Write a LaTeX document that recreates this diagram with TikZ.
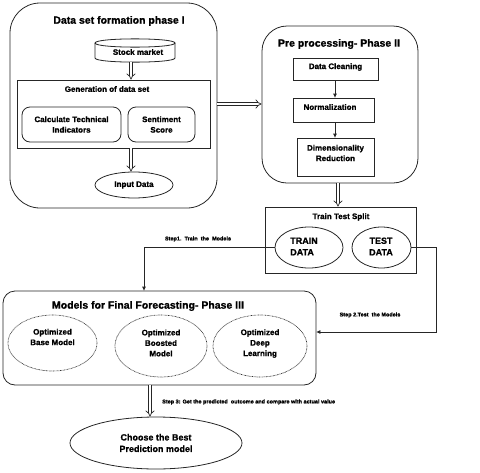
\documentclass[tikz,border=0pt]{standalone}
\usepackage{fontspec}
\setmainfont{Liberation Sans}[BoldFeatures={FakeBold=1}]
\usetikzlibrary{arrows.meta,shapes.geometric}
\tikzset{
  every node/.style={font=\bfseries, inner sep=0pt, align=center},
  ln/.style={draw=black!85, line width=0.8pt},
  phase/.style={ln, rectangle, rounded corners=#1},
  box/.style={ln, rectangle},
  oval/.style={ln, ellipse},
  dotoval/.style={draw=black!80, line width=0.7pt, ellipse, dash pattern=on 0.7pt off 0.7pt},
  dbl/.style={draw=black!85, line width=0.7pt, double, double distance=2.5pt, -{Implies[length=4pt]}},
  arr/.style={draw=black!85, line width=0.8pt, -{Triangle[length=4pt,width=3.5pt]}},
  ttl/.style={font=\fontsize{10.5}{12}\bfseries\selectfont},
  txt/.style={font=\fontsize{8}{10.5}\bfseries\selectfont},
  big/.style={font=\fontsize{9}{11.5}\bfseries\selectfont},
  stp/.style={font=\fontsize{5.5}{7}\bfseries\selectfont},
}
\begin{document}
\begin{tikzpicture}[x=1pt,y=-1pt]
\useasboundingbox (0,0) rectangle (480,472);
% Phase I
\node[phase=30pt, minimum width=207pt, minimum height=205pt] (p1) at (113.5,105.5) {};
\node[ttl] (t1) at (119,21) {Data set formation phase I};
\node[minimum width=80pt, minimum height=23pt] (stock) at (135,50.5) {};
\draw[ln, fill=white] (95,43) -- (95,58) .. controls (95,63.5) and (175,63.5) .. (175,58) -- (175,43);
\draw[ln] (95,43) .. controls (95,37.5) and (175,37.5) .. (175,43) .. controls (175,48.5) and (95,48.5) .. (95,43);
\node[txt] at (138,52) {Stock market};
\node[box, minimum width=193pt, minimum height=68pt] (gen) at (113.5,114) {};
\node[txt] (gent) at (107,89) {Generation of data set};
\node[phase=8pt, minimum width=99pt, minimum height=35pt, txt] (calc) at (71.5,124.5) {Calculate Technical\\Indicators};
\node[phase=8pt, minimum width=67pt, minimum height=35pt, txt] (sent) at (161.5,124.5) {Sentiment\\Score};
\node[oval, minimum width=78pt, minimum height=26pt, txt] (inp) at (134,185) {Input Data};
\coordinate (ax) at (131,0);
\draw[dbl] (stock.south -| ax) -- (gen.north -| ax);
\draw[dbl] (gen.south -| ax) -- (inp.north -| ax);
% Phase II
\node[phase=25pt, minimum width=156pt, minimum height=157pt] (p2) at (340,104.5) {};
\node[ttl] (t2) at (339,44) {Pre processing- Phase II};
\node[box, minimum width=85pt, minimum height=22pt] (dc) at (335.5,69) {};
\node[txt] at (335.5,67) {Data Cleaning};
\node[box, minimum width=81pt, minimum height=24pt] (nor) at (333.5,110) {};
\node[txt] at (330,107) {Normalization};
\node[box, minimum width=77pt, minimum height=38pt] (dim) at (335.5,157) {};
\node[txt] at (335.5,153) {Dimensionality\\Reduction};
\coordinate (bx) at (335,0);
\draw[arr] (dc.south -| bx) -- (nor.north -| bx);
\draw[arr] (nor.south -| bx) -- (dim.north -| bx);
\coordinate (ay) at (0,104);
\draw[dbl] (p1.east |- ay) -- (p2.west |- ay);
% Train test split
\node[box, minimum width=151pt, minimum height=66pt] (tts) at (340.5,240) {};
\node[txt] at (341,217) {Train Test Split};
\coordinate (cx) at (338,0);
\draw[dbl] (p2.south -| cx) -- (tts.north -| cx);
\node[oval, minimum width=68pt, minimum height=41pt] (train) at (309,247.5) {};
\node[big, align=left] at (304,246.5) {TRAIN\\DATA};
\node[oval, minimum width=59pt, minimum height=41pt] (test) at (381.5,247.5) {};
\node[big] at (381,246.5) {TEST\\DATA};
% Phase III
\node[phase=12pt, minimum width=313pt, minimum height=94pt] (p3) at (159.5,338) {};
\node[ttl] (t3) at (148,306) {Models for Final Forecasting- Phase III};
\node[dotoval, minimum width=89pt, minimum height=56pt] (m1) at (52.5,343) {};
\node[txt] at (52.5,337) {Optimized\\Base Model};
\node[dotoval, minimum width=92pt, minimum height=62pt] (m2) at (161,346) {};
\node[txt] at (161,343) {Optimized\\Boosted\\Model};
\node[dotoval, minimum width=94pt, minimum height=62pt] (m3) at (260,346) {};
\node[txt] at (260,343.5) {Optimized\\Deep\\Learning};
% Steps
\coordinate (s1) at (144,247.5);
\draw[arr] (train.west) -- (s1) -- (s1 |- p3.north);
\node[stp] at (198,239) {Step1.\ \ Train\ \ the\ \ Models};
\coordinate (s2a) at (436,247.5);
\coordinate (s2b) at (436,332);
\draw[arr] (test.east) -- (s2a) -- (s2b) -- (s2b -| p3.east);
\node[stp] at (370,315) {Step 2.Test\ \ the Models};
% Final
\node[oval, minimum width=172pt, minimum height=52pt, big] (fin) at (156,443) {Choose the Best\\Prediction model};
\coordinate (dx) at (150,0);
\draw[dbl] (p3.south -| dx) -- (fin.north -| dx);
\node[stp, anchor=west] at (162,402) {Step 3: Get the predicted\ \ outcome and compare with actual value};
\end{tikzpicture}
\end{document}
